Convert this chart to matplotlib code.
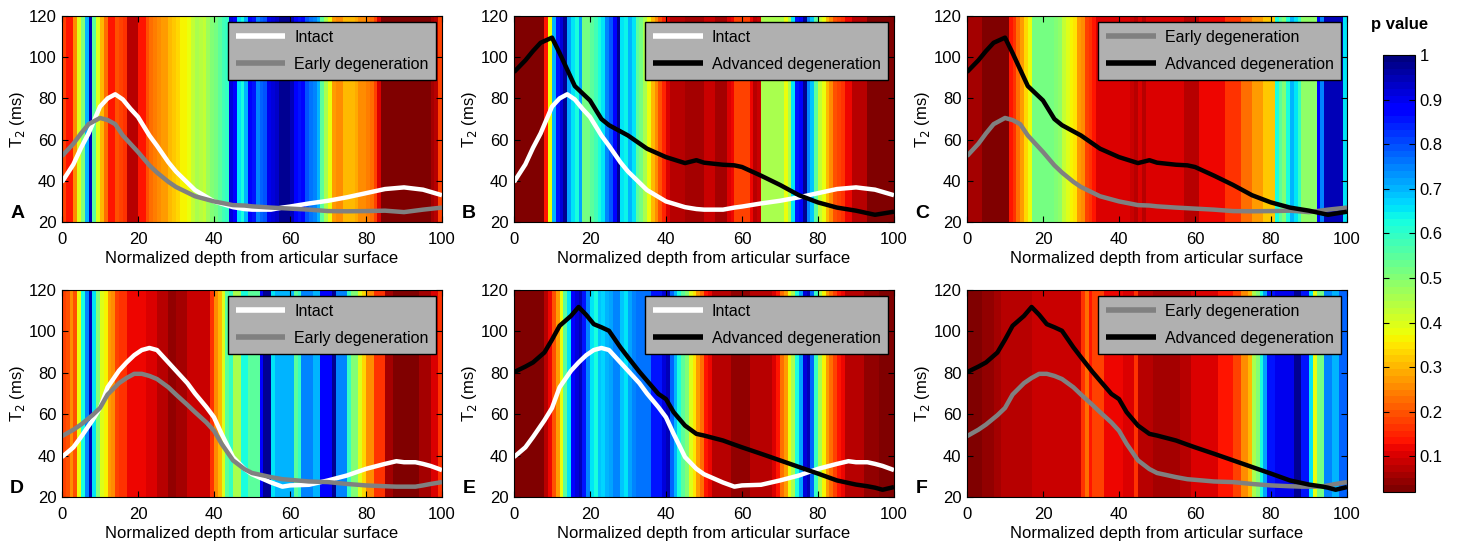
import matplotlib.pyplot as plt
import matplotlib as mpl
import numpy as np

plt.rcParams['font.family'] = ['Liberation Sans', 'DejaVu Sans']
plt.rcParams['font.size'] = 12

# T2 profiles (ms) vs normalized depth, top row (A-C)
depth_top = [0, 3, 5, 7, 10, 12, 14, 16, 18, 20, 23, 25, 28, 30, 35, 40, 45, 48, 50,
             55, 58, 60, 65, 70, 75, 80, 85, 90, 95, 100]
intact_top = [39.4, 48, 56, 63, 76, 80, 82, 79.5, 75, 71, 62, 57, 49, 44.5, 35.5, 30, 27.2,
              26.3, 26, 26, 27, 27.5, 29, 30.3, 32, 34, 36, 36.8, 35.7, 33]
early_top = [52, 58, 63, 67.5, 70.5, 69.5, 67.5, 62, 58, 54, 47.5, 44, 39.5, 37, 32.5, 30,
             28.2, 28, 27.6, 27, 26.7, 26.5, 26, 25.3, 25.2, 25.3, 25.5, 24.8, 26, 27]
advanced_top = [92.8, 98.5, 103, 107, 109.5, 102, 94, 86, 82.5, 79, 70, 67, 64, 62, 55.6,
                51.5, 48.6, 50, 48.8, 47.8, 47.5, 46.7, 42.5, 38, 33, 29.5, 27, 25.5, 23.5, 25]

# bottom row (D-F)
depth_bot = [0, 3, 5, 8, 10, 12, 15, 17, 19, 21, 23, 25, 28, 30, 33, 35, 38, 40, 42, 45,
             48, 50, 55, 58, 60, 65, 70, 75, 80, 85, 88, 90, 93, 95, 97, 100]
intact_bot = [39.3, 44, 49, 57, 63, 73, 81, 85, 88.5, 91, 92, 91, 85, 81, 75, 70, 63.4, 58.5,
              50.5, 39.3, 33.6, 31, 27, 25, 25.6, 25.9, 28, 30.4, 33.6, 36, 37.3, 36.8, 36.8,
              36, 35, 33]
early_bot = [49.4, 52.5, 55, 59.5, 63, 69.5, 75, 77.5, 79.5, 79.5, 78.5, 77, 73, 69.5, 64.5,
             61, 56, 52, 45.7, 37.7, 33.5, 31.6, 29.6, 28.6, 28.3, 27.5, 27.2, 26.3, 25.6,
             25.2, 25, 25, 25, 25.6, 26.3, 27.2]
advanced_bot = [80.3, 83, 85, 89.8, 96, 102.7, 107.5, 111.8, 108, 103.5, 102, 100.3, 92.3,
                87.5, 80.5, 76.2, 69.8, 67.3, 61, 54.5, 50.5, 49.7, 47.3, 45.3, 44, 40.9,
                37.7, 34.5, 31.3, 28, 26.8, 26, 25.2, 24.5, 23.5, 24.8]

# p values at each depth (0..99)
p_A = [0.18, 0.13, 0.14, 0.26, 0.39, 0.5, 0.7, 0.95, 0.55, 0.4,
       0.3, 0.22, 0.14, 0.14, 0.2, 0.18, 0.16, 0.07, 0.07, 0.08,
       0.14, 0.14, 0.2, 0.22, 0.24, 0.26, 0.27, 0.27, 0.3, 0.32,
       0.33, 0.36, 0.37, 0.38, 0.43, 0.45, 0.44, 0.42, 0.47, 0.5,
       0.52, 0.55, 0.58, 0.6, 0.92, 0.88, 0.65, 0.63, 0.7, 0.88,
       0.85, 0.75, 0.78, 0.8, 0.9, 0.92, 0.93, 0.97, 0.98, 0.97,
       0.95, 0.88, 0.85, 0.87, 0.8, 0.76, 0.75, 0.7, 0.55, 0.45,
       0.38, 0.27, 0.25, 0.26, 0.3, 0.31, 0.3, 0.29, 0.26, 0.25,
       0.24, 0.22, 0.18, 0.1, 0.03, 0.03, 0.03, 0.03, 0.03, 0.03,
       0.03, 0.03, 0.03, 0.03, 0.03, 0.03, 0.03, 0.06, 0.07, 0.18]
p_B = [0.03, 0.03, 0.03, 0.03, 0.03, 0.03, 0.03, 0.03, 0.14, 0.38,
       0.7, 0.85, 0.92, 0.98, 0.72, 0.65, 0.63, 0.72, 0.52, 0.52,
       0.55, 0.58, 0.63, 0.66, 0.75, 0.8, 0.88, 0.97, 0.65, 0.64,
       0.7, 0.66, 0.55, 0.52, 0.45, 0.38, 0.3, 0.26, 0.2, 0.15,
       0.1, 0.08, 0.08, 0.07, 0.07, 0.06, 0.06, 0.06, 0.06, 0.06,
       0.09, 0.09, 0.09, 0.06, 0.06, 0.06, 0.11, 0.12, 0.18, 0.18,
       0.18, 0.18, 0.12, 0.08, 0.09, 0.46, 0.46, 0.46, 0.46, 0.46,
       0.46, 0.38, 0.45, 0.65, 0.85, 0.88, 0.97, 0.75, 0.68, 0.55,
       0.42, 0.38, 0.3, 0.26, 0.2, 0.18, 0.17, 0.12, 0.12, 0.07,
       0.07, 0.07, 0.07, 0.03, 0.03, 0.03, 0.03, 0.03, 0.03, 0.03]
p_C = [0.06, 0.06, 0.06, 0.06, 0.03, 0.03, 0.03, 0.03, 0.03, 0.03,
       0.03, 0.13, 0.17, 0.22, 0.28, 0.33, 0.38, 0.52, 0.52, 0.52,
       0.52, 0.52, 0.52, 0.5, 0.48, 0.43, 0.4, 0.37, 0.35, 0.28,
       0.25, 0.18, 0.16, 0.14, 0.11, 0.11, 0.11, 0.11, 0.11, 0.11,
       0.11, 0.11, 0.11, 0.09, 0.07, 0.1, 0.08, 0.1, 0.11, 0.11,
       0.11, 0.11, 0.11, 0.11, 0.11, 0.11, 0.11, 0.08, 0.08, 0.08,
       0.08, 0.12, 0.12, 0.12, 0.12, 0.12, 0.12, 0.12, 0.17, 0.17,
       0.17, 0.17, 0.22, 0.22, 0.22, 0.28, 0.28, 0.28, 0.32, 0.32,
       0.32, 0.62, 0.55, 0.5, 0.63, 0.7, 0.65, 0.6, 0.48, 0.48,
       0.48, 0.48, 0.88, 0.75, 0.95, 0.95, 0.95, 0.95, 0.95, 0.65]
p_D = [0.18, 0.2, 0.26, 0.2, 0.38, 0.63, 0.75, 0.95, 0.65, 0.5,
       0.4, 0.37, 0.27, 0.25, 0.18, 0.17, 0.16, 0.12, 0.12, 0.12,
       0.12, 0.12, 0.1, 0.1, 0.1, 0.07, 0.07, 0.07, 0.04, 0.04,
       0.06, 0.06, 0.06, 0.09, 0.09, 0.09, 0.09, 0.09, 0.09, 0.17,
       0.25, 0.3, 0.4, 0.55, 0.6, 0.45, 0.45, 0.62, 0.62, 0.55,
       0.55, 0.55, 0.88, 0.97, 0.97, 0.65, 0.7, 0.7, 0.7, 0.7,
       0.7, 0.55, 0.6, 0.75, 0.75, 0.75, 0.7, 0.7, 0.88, 0.88,
       0.88, 0.97, 0.75, 0.75, 0.75, 0.6, 0.5, 0.5, 0.4, 0.33,
       0.26, 0.26, 0.16, 0.16, 0.16, 0.06, 0.06, 0.03, 0.03, 0.03,
       0.03, 0.03, 0.03, 0.03, 0.06, 0.06, 0.06, 0.1, 0.1, 0.16]
p_E = [0.03, 0.03, 0.03, 0.03, 0.03, 0.03, 0.03, 0.03, 0.08, 0.12,
       0.2, 0.28, 0.38, 0.55, 0.65, 0.88, 0.92, 0.95, 0.85, 0.75,
       0.65, 0.63, 0.68, 0.67, 0.7, 0.72, 0.75, 0.74, 0.68, 0.66,
       0.72, 0.74, 0.76, 0.76, 0.76, 0.76, 0.85, 0.85, 0.85, 0.92,
       0.95, 0.78, 0.7, 0.63, 0.55, 0.5, 0.4, 0.35, 0.28, 0.22,
       0.14, 0.12, 0.07, 0.07, 0.07, 0.07, 0.07, 0.04, 0.04, 0.04,
       0.04, 0.04, 0.07, 0.07, 0.07, 0.07, 0.07, 0.07, 0.1, 0.14,
       0.22, 0.28, 0.38, 0.45, 0.63, 0.72, 0.92, 0.95, 0.78, 0.6,
       0.45, 0.37, 0.28, 0.22, 0.18, 0.14, 0.12, 0.08, 0.08, 0.08,
       0.08, 0.08, 0.05, 0.05, 0.05, 0.05, 0.03, 0.03, 0.03, 0.03]
p_F = [0.03, 0.03, 0.03, 0.03, 0.04, 0.04, 0.04, 0.06, 0.06, 0.08,
       0.08, 0.08, 0.08, 0.08, 0.08, 0.08, 0.08, 0.09, 0.09, 0.09,
       0.09, 0.09, 0.09, 0.09, 0.09, 0.09, 0.09, 0.09, 0.09, 0.09,
       0.17, 0.22, 0.14, 0.18, 0.18, 0.18, 0.12, 0.12, 0.12, 0.12,
       0.12, 0.11, 0.11, 0.11, 0.17, 0.08, 0.08, 0.08, 0.08, 0.06,
       0.06, 0.06, 0.06, 0.06, 0.06, 0.06, 0.08, 0.08, 0.08, 0.1,
       0.1, 0.1, 0.1, 0.11, 0.11, 0.11, 0.14, 0.14, 0.14, 0.14,
       0.18, 0.18, 0.26, 0.26, 0.3, 0.45, 0.5, 0.63, 0.72, 0.85,
       0.85, 0.9, 0.9, 0.9, 0.9, 0.9, 0.97, 0.97, 0.85, 0.85,
       0.65, 0.38, 0.52, 0.52, 0.75, 0.75, 0.7, 0.7, 0.78, 0.78]

c_intact, c_early, c_adv = 'white', '#808080', 'black'
lab_intact, lab_early, lab_adv = 'Intact', 'Early degeneration', 'Advanced degeneration'

panels = [
    ('A', p_A, depth_top, [(lab_intact, intact_top, c_intact), (lab_early, early_top, c_early)]),
    ('B', p_B, depth_top, [(lab_intact, intact_top, c_intact), (lab_adv, advanced_top, c_adv)]),
    ('C', p_C, depth_top, [(lab_early, early_top, c_early), (lab_adv, advanced_top, c_adv)]),
    ('D', p_D, depth_bot, [(lab_intact, intact_bot, c_intact), (lab_early, early_bot, c_early)]),
    ('E', p_E, depth_bot, [(lab_intact, intact_bot, c_intact), (lab_adv, advanced_bot, c_adv)]),
    ('F', p_F, depth_bot, [(lab_early, early_bot, c_early), (lab_adv, advanced_bot, c_adv)]),
]

W, H = 1462, 542
fig = plt.figure(figsize=(W / 100, H / 100), dpi=100)
cmap = plt.get_cmap('jet_r', 64)
norm = mpl.colors.Normalize(vmin=0.02, vmax=1)

lefts = [62, 514, 967]
rows = [(16, 222), (290, 497)]
aw = 380

for i, (letter, pv, depth, series) in enumerate(panels):
    top, bot = rows[i // 3]
    left = lefts[i % 3]
    ax = fig.add_axes([left / W, 1 - bot / H, aw / W, (bot - top) / H])
    edges = np.arange(len(pv) + 1)
    ax.pcolormesh(edges, [20, 120], np.array(pv)[None, :], cmap=cmap, norm=norm)
    for lab, vals, col in series:
        ax.plot(depth, vals, color=col, lw=3.2, label=lab, solid_capstyle='butt')
    ax.set_xlim(0, 100)
    ax.set_ylim(20, 120)
    ax.set_xticks(range(0, 101, 20))
    ax.set_yticks(range(20, 121, 20))
    ax.tick_params(direction='in', top=True, right=True, length=4, width=0.8, labelsize=12)
    ax.tick_params(axis='x', pad=7)
    ax.tick_params(axis='y', pad=4)
    ax.set_xlabel('Normalized depth from articular surface', fontsize=12, labelpad=3)
    ax.set_ylabel('T$_2$ (ms)', fontsize=12, labelpad=1)
    for s in ax.spines.values():
        s.set_linewidth(0.8)
    leg = ax.legend(loc='upper right', fancybox=False, framealpha=1, facecolor='#b0b0b0',
                    edgecolor='black', handlelength=3.1, handletextpad=0.55,
                    borderaxespad=0.35, fontsize=11.5, borderpad=0.5, labelspacing=0.75)
    leg.get_frame().set_linewidth(1.0)
    for ln in leg.get_lines():
        ln.set_linewidth(4)
    ax.text(-0.118, 0.04, letter, transform=ax.transAxes, ha='center', va='center',
            fontsize=14, fontweight='bold')

cax = fig.add_axes([1383 / W, 1 - 492 / H, 32 / W, (492 - 55) / H])
cb = fig.colorbar(mpl.cm.ScalarMappable(norm=norm, cmap=cmap), cax=cax)
ticks = [0.1, 0.2, 0.3, 0.4, 0.5, 0.6, 0.7, 0.8, 0.9, 1]
cb.set_ticks(ticks)
cb.set_ticklabels(['0.1', '0.2', '0.3', '0.4', '0.5', '0.6', '0.7', '0.8', '0.9', '1'])
cax.yaxis.set_ticks_position('both')
cax.tick_params(direction='in', length=4, width=0.8, labelsize=12, labelright=True,
                labelleft=False)
cb.outline.set_linewidth(0.8)
fig.text(1400 / W, 1 - 25 / H, 'p value', ha='center', va='center', fontsize=12,
         fontweight='bold')

fig.savefig('out.png', dpi=100)
